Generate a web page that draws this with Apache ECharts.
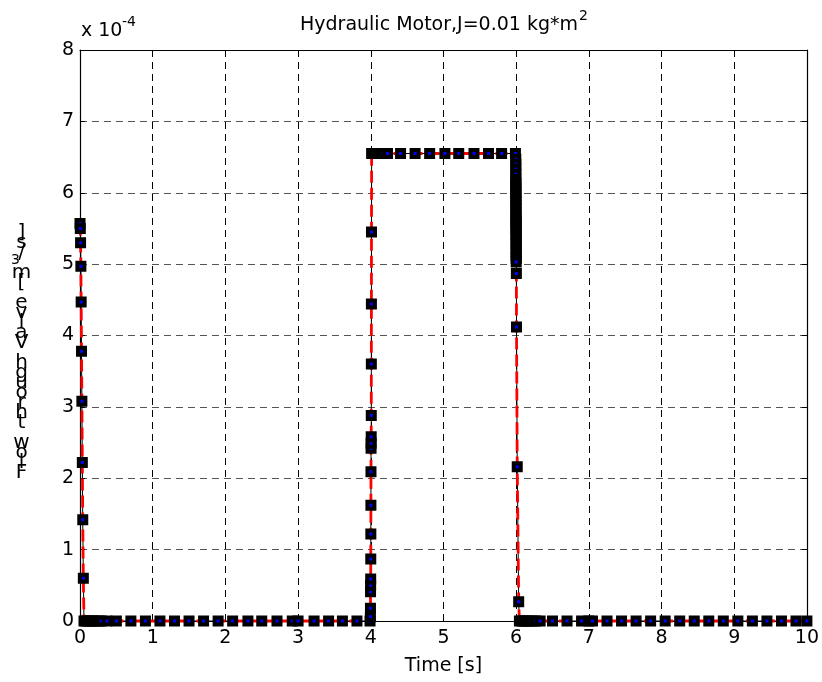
<!DOCTYPE html>
<html>
<head>
<meta charset="utf-8">
<script src="https://cdn.jsdelivr.net/npm/echarts@6/dist/echarts.min.js"></script>
<style>
  html, body { margin: 0; padding: 0; background: #fff; }
  #chart { width: 822px; height: 682px; }
</style>
</head>
<body>
<div id="chart"></div>
<script>
// Simulated valve flow of the hydraulic motor (values in units of 1e-4 m^3/s)
const timeS = [
  // start-up transient
  0.000, 0.004, 0.008, 0.012, 0.016, 0.021, 0.026, 0.032, 0.038, 0.046, 0.055,
  // valve closed
  0.08, 0.11, 0.14, 0.17, 0.21, 0.25, 0.29, 0.37, 0.50, 0.70, 0.90, 1.10, 1.30,
  1.50, 1.70, 1.90, 2.10, 2.31, 2.50, 2.71, 2.92, 3.00, 3.22, 3.42, 3.61, 3.81, 3.99,
  // opening at t = 4 s
  3.995, 3.996, 3.997, 3.998, 3.999, 4.000, 4.001, 4.002, 4.003, 4.004, 4.005,
  4.006, 4.007, 4.008, 4.009, 4.010, 4.012,
  // open plateau
  4.025, 4.04, 4.055, 4.075, 4.10, 4.13, 4.17, 4.23, 4.41, 4.61, 4.81, 5.02,
  5.21, 5.42, 5.62, 5.80, 5.99,
  // closing at t = 6 s
  5.9950, 5.9952, 5.9954, 5.9956, 5.9958, 5.9960, 5.9962, 5.9964, 5.9966, 5.9968,
  5.9970, 5.9972, 5.9974, 5.9976, 5.9978, 5.9980, 5.9982, 5.9984, 5.9986, 5.9988,
  5.9990, 5.9992, 5.9994, 5.9996, 5.9998, 6.0000, 6.0002, 6.0004, 6.0006, 6.0008,
  6.003, 6.005, 6.015, 6.035, 6.045,
  // valve closed again
  6.08, 6.11, 6.14, 6.18, 6.22, 6.27, 6.33, 6.50, 6.70, 6.90, 7.00, 7.05, 7.25,
  7.45, 7.65, 7.85, 8.05, 8.25, 8.45, 8.65, 8.85, 9.05, 9.25, 9.45, 9.65, 9.85, 10.00
];
const flow = [
  5.57, 5.50, 5.30, 4.97, 4.47, 3.78, 3.08, 2.22, 1.42, 0.60, 0.00,
  0, 0, 0, 0, 0, 0, 0, 0, 0, 0, 0, 0, 0,
  0, 0, 0, 0, 0, 0, 0, 0, 0, 0, 0, 0, 0, 0,
  0.06, 0.18, 0.41, 0.50, 0.59, 0.87, 1.22, 1.62, 2.09, 2.42, 2.49,
  2.58, 2.88, 3.60, 4.44, 5.45, 6.55,
  6.55, 6.55, 6.55, 6.55, 6.55, 6.55, 6.55, 6.55, 6.55, 6.55, 6.55, 6.55,
  6.55, 6.55, 6.55, 6.55, 6.55,
  6.47, 6.40, 6.33, 6.26, 6.19, 6.14, 6.10, 6.05, 6.00, 5.96,
  5.91, 5.87, 5.82, 5.77, 5.72, 5.67, 5.63, 5.59, 5.55, 5.51,
  5.47, 5.42, 5.37, 5.32, 5.27, 5.22, 5.17, 5.12, 5.08, 5.03,
  4.87, 4.12, 2.16, 0.27, 0.00,
  0, 0, 0, 0, 0, 0, 0, 0, 0, 0, 0, 0, 0,
  0, 0, 0, 0, 0, 0, 0, 0, 0, 0, 0, 0, 0, 0
];

const titleText = 'Hydraulic Motor,J=0.01 kg*m';
const titleSup = '2';
const xAxisName = 'Time [s]';
const yAxisName = 'Flow through Valve [m^3/s]';
const yScaleText = 'x 10';
const yScaleExp = '-4';

const FONT = '"DejaVu Sans", sans-serif';
const points = timeS.map((t, i) => [t, flow[i]]);

// The y label is stacked one glyph per row, last glyph on top
function stackedLabel(name, cx, top, step) {
  const tokens = [];
  for (let i = 0; i < name.length; i++) {
    if (name[i] === '^') { tokens.push({ ch: name[i + 1], sup: true }); i++; }
    else tokens.push({ ch: name[i], sup: false });
  }
  tokens.reverse();
  return tokens.map((t, i) => ({
    type: 'text',
    x: t.sup ? cx - 6 : cx,
    y: t.sup ? top + i * step - 3 : top + i * step,
    silent: true,
    style: {
      text: t.ch,
      fill: '#000',
      font: (t.sup ? '14px ' : '20px ') + FONT,
      align: 'center',
      verticalAlign: 'middle'
    }
  }));
}

const chart = echarts.init(document.getElementById('chart'), null, { renderer: 'canvas' });

const axisLabelStyle = { color: '#000', fontSize: 19, fontFamily: FONT };
const gridDash = [7, 5];

chart.setOption({
  animation: false,
  backgroundColor: '#fff',
  grid: { left: 80, right: 10, top: 50, bottom: 61, show: false },
  xAxis: [
    {
      type: 'value', min: 0, max: 10, interval: 1,
      axisLine: { show: true, onZero: false, lineStyle: { color: '#000', width: 1.2 } },
      axisTick: { show: true, inside: true, length: 5, lineStyle: { color: '#000' } },
      axisLabel: Object.assign({ margin: 8 }, axisLabelStyle),
      splitLine: { show: true, lineStyle: { color: '#000', width: 1, type: gridDash } },
      name: xAxisName, nameLocation: 'middle', nameGap: 36,
      nameTextStyle: { color: '#000', fontSize: 19, fontFamily: FONT }
    },
    {
      type: 'value', position: 'top', min: 0, max: 10, interval: 1,
      axisLine: { show: true, onZero: false, lineStyle: { color: '#000', width: 1.2 } },
      axisTick: { show: true, inside: true, length: 5, lineStyle: { color: '#000' } },
      axisLabel: { show: false }, splitLine: { show: false }
    }
  ],
  yAxis: [
    {
      type: 'value', min: 0, max: 8, interval: 1,
      axisLine: { show: true, onZero: false, lineStyle: { color: '#000', width: 1.2 } },
      axisTick: { show: true, inside: true, length: 5, lineStyle: { color: '#000' } },
      axisLabel: Object.assign({ margin: 6 }, axisLabelStyle),
      splitLine: { show: true, lineStyle: { color: '#555', width: 1, type: gridDash } }
    },
    {
      type: 'value', position: 'right', min: 0, max: 8, interval: 1,
      axisLine: { show: true, onZero: false, lineStyle: { color: '#000', width: 1.2 } },
      axisTick: { show: true, inside: true, length: 5, lineStyle: { color: '#000' } },
      axisLabel: { show: false }, splitLine: { show: false }
    }
  ],
  series: [
    {
      name: 'flow line', type: 'line', data: points, symbol: 'none', clip: false, z: 2,
      lineStyle: { color: '#000', width: 1 }
    },
    {
      name: 'flow dashed', type: 'line', data: points, symbol: 'none', clip: false, z: 3,
      lineStyle: { color: '#ff0000', width: 2.8, type: [12, 5] }
    },
    {
      name: 'flow samples', type: 'scatter', data: points, clip: false, z: 4,
      symbol: 'rect', symbolSize: 7,
      itemStyle: { color: '#0000ff', borderColor: '#000', borderWidth: 4, opacity: 1 }
    }
  ],
  graphic: [
    {
      type: 'text', x: 300, y: 25, silent: true,
      style: { text: titleText, fill: '#000', font: '19px ' + FONT, align: 'left', verticalAlign: 'middle' }
    },
    {
      type: 'text', x: 579, y: 16, silent: true,
      style: { text: titleSup, fill: '#000', font: '14px ' + FONT, align: 'left', verticalAlign: 'middle' }
    },
    {
      type: 'text', x: 81, y: 31, silent: true,
      style: { text: yScaleText, fill: '#000', font: '19px ' + FONT, align: 'left', verticalAlign: 'middle' }
    },
    {
      type: 'text', x: 122, y: 22, silent: true,
      style: { text: yScaleExp, fill: '#000', font: '14px ' + FONT, align: 'left', verticalAlign: 'middle' }
    }
  ].concat(stackedLabel(yAxisName, 21.5, 233, 10))
});
</script>
</body>
</html>
